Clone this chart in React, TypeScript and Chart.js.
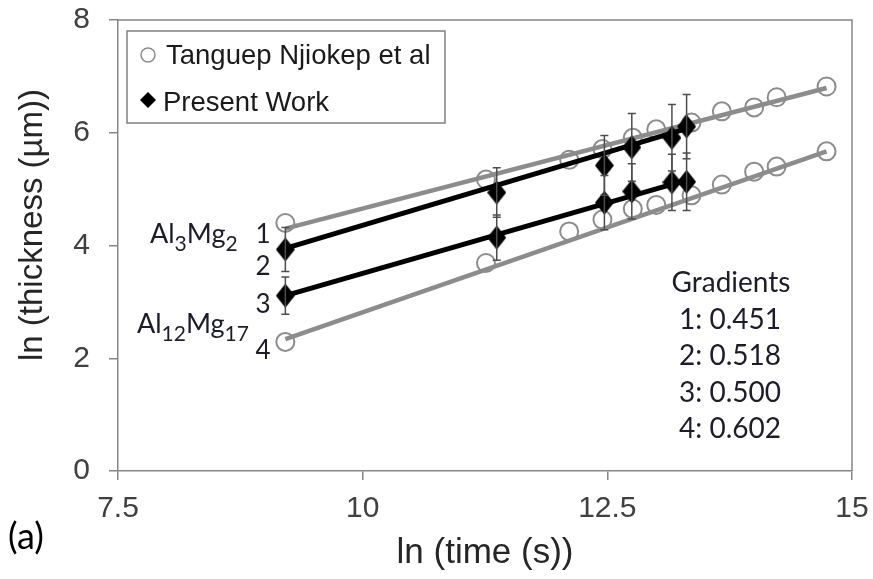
import { useEffect, useRef } from 'react';
import { Chart, registerables } from 'chart.js';

Chart.register(...registerables);

// ln(time) and ln(thickness) from Tanguep Njiokep et al
const tanguepTime = [9.21, 11.26, 12.11, 12.45, 12.76, 13.0, 13.36, 13.67, 14.0, 14.23, 14.74];
const tanguepAl3Mg2 = [4.4, 5.17, 5.52, 5.71, 5.91, 6.06, 6.18, 6.38, 6.45, 6.63, 6.82];
const tanguepAl12Mg17 = [2.29, 3.69, 4.25, 4.46, 4.65, 4.72, 4.89, 5.08, 5.31, 5.4, 5.67];

// Present work, with symmetric error bars
const presentTime = [9.21, 11.37, 12.47, 12.75, 13.16, 13.31];
const presentAl3Mg2 = [3.93, 4.94, 5.42, 5.74, 5.91, 6.11];
const presentAl3Mg2Err = [0.39, 0.44, 0.53, 0.6, 0.59, 0.57];
const presentAl12Mg17 = [3.11, 4.14, 4.76, 4.96, 5.12, 5.13];
const presentAl12Mg17Err = [0.33, 0.4, 0.48, 0.49, 0.5, 0.51];

// Linear fits: 1 = Tanguep Al3Mg2, 2 = present Al3Mg2, 3 = present Al12Mg17, 4 = Tanguep Al12Mg17
const fitLabels = ['1', '2', '3', '4'];
const fitGradients = [0.451, 0.518, 0.5, 0.602];
const fitIntercepts = [0.146, -0.821, -1.495, -3.204];

const xTickStep = 2.5;
const yTickStep = 2;

const AXIS_FONT = '"Liberation Sans", Arial, sans-serif';
const NOTE_FONT = 'Lato, "Open Sans", sans-serif';
const GREY = '#8c8c8c';
const AXIS_GREY = '#868686';

function fitLine(i: number, xs: number[]) {
  const x0 = xs[0];
  const x1 = xs[xs.length - 1];
  return [
    { x: x0, y: fitGradients[i] * x0 + fitIntercepts[i] },
    { x: x1, y: fitGradients[i] * x1 + fitIntercepts[i] },
  ];
}

function diamond(w: number, h: number, color: string) {
  const c = document.createElement('canvas');
  c.width = w;
  c.height = h;
  const g = c.getContext('2d')!;
  g.fillStyle = color;
  g.beginPath();
  g.moveTo(w / 2, 0);
  g.lineTo(w, h / 2);
  g.lineTo(w / 2, h);
  g.lineTo(0, h / 2);
  g.closePath();
  g.fill();
  return c;
}

function drawFormula(
  ctx: CanvasRenderingContext2D,
  parts: [string, boolean][],
  x: number,
  y: number,
  size: number,
) {
  let cx = x;
  for (const [text, sub] of parts) {
    ctx.font = `${sub ? Math.round(size * 0.78) : size}px ${NOTE_FONT}`;
    ctx.fillText(text, cx, sub ? y + 8 : y);
    cx += ctx.measureText(text).width;
  }
}

const decorations = {
  id: 'decorations',
  afterDatasetsDraw(chart: any) {
    const { ctx, chartArea: a, scales } = chart;
    const xs = scales.x;
    const ys = scales.y;
    ctx.save();
    ctx.strokeStyle = '#4d4d4d';
    ctx.lineWidth = 1.5;
    const bars = (t: number[], v: number[], e: number[]) =>
      t.forEach((tv, i) => {
        const px = xs.getPixelForValue(tv);
        const top = ys.getPixelForValue(v[i] + e[i]);
        const bot = ys.getPixelForValue(v[i] - e[i]);
        ctx.beginPath();
        ctx.moveTo(px, top);
        ctx.lineTo(px, bot);
        ctx.moveTo(px - 4, top);
        ctx.lineTo(px + 4, top);
        ctx.moveTo(px - 4, bot);
        ctx.lineTo(px + 4, bot);
        ctx.stroke();
      });
    bars(presentTime, presentAl3Mg2, presentAl3Mg2Err);
    bars(presentTime, presentAl12Mg17, presentAl12Mg17Err);

    // plot frame
    ctx.strokeStyle = AXIS_GREY;
    ctx.lineWidth = 1.5;
    ctx.beginPath();
    ctx.moveTo(a.left, a.top);
    ctx.lineTo(a.right, a.top);
    ctx.lineTo(a.right, a.bottom);
    ctx.stroke();
    ctx.restore();
  },
  afterDraw(chart: any) {
    const { ctx } = chart;
    ctx.save();

    // vertical axis title
    ctx.save();
    ctx.translate(33, 225);
    ctx.rotate(-Math.PI / 2);
    ctx.fillStyle = '#262626';
    ctx.font = `33px ${AXIS_FONT}`;
    ctx.textAlign = 'center';
    ctx.textBaseline = 'middle';
    ctx.fillText('ln (thickness (µm))', 0, 0);
    ctx.restore();

    // legend
    ctx.fillStyle = '#ffffff';
    ctx.fillRect(127, 31, 318, 92);
    ctx.strokeStyle = '#808080';
    ctx.lineWidth = 1.5;
    ctx.strokeRect(127, 31, 318, 92);
    ctx.strokeStyle = GREY;
    ctx.lineWidth = 1.5;
    ctx.beginPath();
    ctx.arc(148, 55, 7, 0, Math.PI * 2);
    ctx.stroke();
    ctx.fillStyle = '#000';
    ctx.beginPath();
    ctx.moveTo(148, 92);
    ctx.lineTo(156, 100);
    ctx.lineTo(148, 108);
    ctx.lineTo(140, 100);
    ctx.closePath();
    ctx.fill();
    ctx.fillStyle = '#1a1a1a';
    ctx.font = `27.5px ${AXIS_FONT}`;
    ctx.textBaseline = 'alphabetic';
    ctx.textAlign = 'left';
    ctx.fillText('Tanguep Njiokep et al', 166, 64);
    ctx.fillText('Present Work', 163, 111);

    // phase labels and fit numbers
    ctx.fillStyle = '#1c1c2a';
    drawFormula(ctx, [['Al', false], ['3', true], ['Mg', false], ['2', true]], 150, 243, 27);
    drawFormula(ctx, [['Al', false], ['12', true], ['Mg', false], ['17', true]], 137, 333, 27);
    ctx.font = `26px ${NOTE_FONT}`;
    ctx.textAlign = 'center';
    const labelY = [243, 275, 313, 359];
    fitLabels.forEach((l, i) => ctx.fillText(l, 263, labelY[i]));

    // gradients table
    ctx.font = `28px ${NOTE_FONT}`;
    ctx.fillText('Gradients', 731, 292);
    const rowY = [329, 365, 402, 438];
    fitLabels.forEach((l, i) => ctx.fillText(`${l}: ${fitGradients[i].toFixed(3)}`, 730, rowY[i]));

    // panel tag
    ctx.textAlign = 'left';
    ctx.fillStyle = '#000';
    ctx.font = `36px ${NOTE_FONT}`;
    ctx.fillText('(a)', 8, 549);
    ctx.restore();
  },
};

export default function App() {
  const ref = useRef<HTMLCanvasElement>(null);

  useEffect(() => {
    const canvas = ref.current;
    if (!canvas) return;
    const dia = diamond(19, 24, '#000');
    const circle = {
      showLine: false,
      pointStyle: 'circle',
      pointRadius: 9,
      pointBorderWidth: 2,
      borderColor: GREY,
      pointBorderColor: GREY,
      pointBackgroundColor: 'rgba(0,0,0,0)',
      backgroundColor: 'rgba(0,0,0,0)',
    };
    const dots = {
      showLine: false,
      pointStyle: dia,
      pointRadius: 10,
      borderColor: '#000',
      backgroundColor: '#000',
    };
    const line = (color: string, width: number) => ({
      showLine: true,
      pointRadius: 0,
      borderColor: color,
      borderWidth: width,
      fill: false,
    });

    const chart = new Chart(canvas, {
      type: 'scatter',
      data: {
        datasets: [
          { label: 'Present Work Al3Mg2', data: presentTime.map((x, i) => ({ x, y: presentAl3Mg2[i] })), ...dots },
          { label: 'Present Work Al12Mg17', data: presentTime.map((x, i) => ({ x, y: presentAl12Mg17[i] })), ...dots },
          { label: 'Fit 2', data: fitLine(1, presentTime), ...line('#000', 5) },
          { label: 'Fit 3', data: fitLine(2, presentTime), ...line('#000', 5) },
          { label: 'Tanguep Al3Mg2', data: tanguepTime.map((x, i) => ({ x, y: tanguepAl3Mg2[i] })), ...circle },
          { label: 'Tanguep Al12Mg17', data: tanguepTime.map((x, i) => ({ x, y: tanguepAl12Mg17[i] })), ...circle },
          { label: 'Fit 1', data: fitLine(0, tanguepTime), ...line(GREY, 4.5) },
          { label: 'Fit 4', data: fitLine(3, tanguepTime), ...line(GREY, 4.5) },
        ] as any,
      },
      options: {
        responsive: false,
        animation: false,
        devicePixelRatio: 1,
        layout: { padding: { top: 20, right: 21, left: 0, bottom: 0 } },
        plugins: { legend: { display: false }, tooltip: { enabled: false } },
        scales: {
          x: {
            type: 'linear',
            min: 7.5,
            max: 15,
            afterFit: (s: any) => {
              s.height = 108;
              s.paddingLeft = 0;
              s.paddingRight = 0;
            },
            ticks: {
              stepSize: xTickStep,
              padding: 11,
              color: '#404040',
              font: { family: AXIS_FONT, size: 30, lineHeight: 1.2 },
            },
            grid: { drawOnChartArea: false, drawTicks: true, tickLength: 9, color: AXIS_GREY, lineWidth: 1.5 },
            border: { color: AXIS_GREY, width: 1.5 },
            title: {
              display: true,
              text: 'ln (time (s))',
              color: '#262626',
              padding: { top: 0, bottom: 5 },
              font: { family: AXIS_FONT, size: 35, lineHeight: 1.2 },
            },
          },
          y: {
            type: 'linear',
            min: 0,
            max: 8,
            afterFit: (s: any) => {
              s.width = 118;
              s.paddingTop = 0;
              s.paddingBottom = 0;
            },
            ticks: {
              stepSize: yTickStep,
              padding: 19,
              color: '#404040',
              font: { family: AXIS_FONT, size: 30, lineHeight: 1.2 },
            },
            grid: { drawOnChartArea: false, drawTicks: true, tickLength: 9, color: AXIS_GREY, lineWidth: 1.5 },
            border: { color: AXIS_GREY, width: 1.5 },
            title: { display: false },
          },
        },
      },
      plugins: [decorations],
    } as any);

    return () => chart.destroy();
  }, []);

  return (
    <div style={{ position: 'absolute', left: 0, top: 0, width: 873, height: 579, background: '#fff' }}>
      <canvas ref={ref} width={873} height={579} style={{ display: 'block' }} />
    </div>
  );
}
